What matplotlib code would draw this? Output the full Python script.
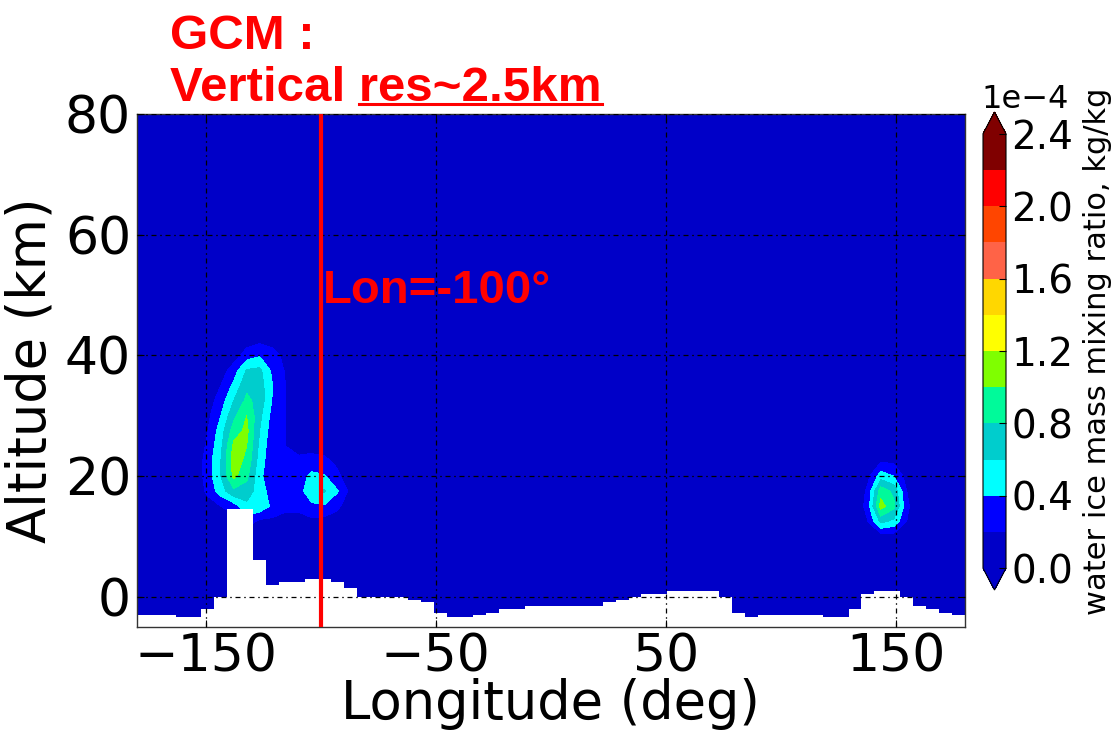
import numpy as np
import matplotlib
matplotlib.use("Agg")
import matplotlib.pyplot as plt
from matplotlib.colors import ListedColormap
from matplotlib.ticker import ScalarFormatter
from matplotlib.lines import Line2D

# ---------------------------------------------------------------------------
# Model grid (64 longitudes, 2.5 km vertical levels)
# ---------------------------------------------------------------------------
lon_edges = np.linspace(-180.0, 180.0, 65)
lon_centers = 0.5 * (lon_edges[:-1] + lon_edges[1:])
altitudes = np.arange(-5.0, 80.01, 2.5)

# Surface altitude (km) for each longitude cell
surface_km = [
    -3.0, -3.0, -3.0, -3.4, -3.4, -2.0, 0.0, 14.5,
    14.5, 6.1, 1.9, 2.5, 2.5, 3.0, 3.0, 2.5,
    1.4, 0.0, 0.0, 0.0, 0.0, -0.5, -0.9, -2.6,
    -3.4, -3.4, -3.0, -2.6, -2.0, -2.0, -1.6, -1.6,
    -1.6, -1.6, -1.6, -1.6, -0.9, -0.5, 0.0, 0.4,
    0.4, 1.0, 1.0, 1.0, 1.0, 0.0, -2.6, -3.4,
    -3.0, -3.0, -3.0, -3.0, -3.0, -3.4, -3.4, -2.0,
    0.4, 1.0, 1.0, 0.0, -1.6, -2.0, -2.6, -3.0,
]

# Water ice mixing ratio (1e-4 kg/kg), western clouds:
# longitude cells 4..16, altitudes 10 km to 42.5 km (rows bottom -> top)
west_first_lon_cell = 4
west_first_alt_km = 10.0
west_cloud = [
    [0.00, 0.00, 0.00, 0.00, 0.10, 0.05, 0.05, 0.00, 0.00, 0.00, 0.00, 0.00, 0.00],
    [0.00, 0.00, 0.05, 0.10, 0.30, 0.15, 0.15, 0.12, 0.12, 0.15, 0.12, 0.08, 0.00],
    [0.00, 0.10, 0.20, 0.30, 0.55, 0.55, 0.35, 0.25, 0.25, 0.35, 0.38, 0.25, 0.05],
    [0.05, 0.25, 0.50, 0.75, 0.70, 0.50, 0.30, 0.25, 0.30, 0.55, 0.62, 0.42, 0.15],
    [0.05, 0.30, 0.60, 1.05, 0.85, 0.45, 0.25, 0.25, 0.30, 0.45, 0.42, 0.25, 0.05],
    [0.05, 0.30, 0.60, 1.10, 0.95, 0.50, 0.25, 0.22, 0.25, 0.28, 0.25, 0.15, 0.00],
    [0.00, 0.25, 0.55, 1.05, 1.00, 0.55, 0.25, 0.20, 0.12, 0.12, 0.10, 0.05, 0.00],
    [0.00, 0.20, 0.50, 0.90, 1.05, 0.60, 0.28, 0.20, 0.05, 0.00, 0.00, 0.00, 0.00],
    [0.00, 0.15, 0.40, 0.75, 1.00, 0.65, 0.32, 0.20, 0.00, 0.00, 0.00, 0.00, 0.00],
    [0.00, 0.10, 0.30, 0.60, 0.85, 0.72, 0.38, 0.20, 0.00, 0.00, 0.00, 0.00, 0.00],
    [0.00, 0.00, 0.20, 0.45, 0.75, 0.70, 0.40, 0.20, 0.00, 0.00, 0.00, 0.00, 0.00],
    [0.00, 0.00, 0.10, 0.30, 0.62, 0.65, 0.35, 0.18, 0.00, 0.00, 0.00, 0.00, 0.00],
    [0.00, 0.00, 0.00, 0.10, 0.30, 0.38, 0.30, 0.12, 0.00, 0.00, 0.00, 0.00, 0.00],
    [0.00, 0.00, 0.00, 0.00, 0.10, 0.15, 0.10, 0.00, 0.00, 0.00, 0.00, 0.00, 0.00],
]

# Eastern cloud: longitude cells 55..60, altitudes 7.5 km to 22.5 km
east_first_lon_cell = 55
east_first_alt_km = 7.5
east_cloud = [
    [0.00, 0.00, 0.00, 0.00, 0.00, 0.00],
    [0.00, 0.05, 0.10, 0.10, 0.00, 0.00],
    [0.00, 0.20, 0.65, 0.55, 0.20, 0.00],
    [0.00, 0.30, 1.08, 0.85, 0.25, 0.00],
    [0.00, 0.25, 0.92, 0.75, 0.20, 0.00],
    [0.00, 0.15, 0.50, 0.40, 0.12, 0.00],
    [0.00, 0.05, 0.18, 0.15, 0.05, 0.00],
]

ice_unit = 1e-4
contour_levels = np.linspace(0.0, 2.4, 13) * ice_unit
colorbar_ticks = np.linspace(0.0, 2.4, 7) * ice_unit
band_colors = ["#0000c8", "#0000ff", "#00ffff", "#00cdcd", "#00fa9a", "#7fff00",
               "#ffff00", "#ffd700", "#ff6347", "#ff4500", "#ff0000", "#800000"]
section_lon = -100.0

# ---------------------------------------------------------------------------
# Assemble the longitude-altitude field
# ---------------------------------------------------------------------------
field = np.zeros((len(altitudes), len(lon_centers)))


def add_block(block, first_cell, first_alt):
    b = np.asarray(block, dtype=float)
    row0 = int(round((first_alt - altitudes[0]) / 2.5))
    field[row0:row0 + b.shape[0], first_cell:first_cell + b.shape[1]] += b


add_block(west_cloud, west_first_lon_cell, west_first_alt_km)
add_block(east_cloud, east_first_lon_cell, east_first_alt_km)
field *= ice_unit

# extend to the domain edges so the field covers -180..180
lon_plot = np.concatenate([[-180.0], lon_centers, [180.0]])
field_plot = np.hstack([field[:, :1], field, field[:, -1:]])

# ---------------------------------------------------------------------------
# Figure
# ---------------------------------------------------------------------------
fig = plt.figure(figsize=(11.18, 7.35), dpi=100)
ax = fig.add_axes([136.7 / 1118, (735 - 627) / 735, (965 - 136.7) / 1118, (627 - 114) / 735])

cmap = ListedColormap(band_colors).with_extremes(under=band_colors[0], over=band_colors[-1])
cf = ax.contourf(lon_plot, altitudes, field_plot, levels=contour_levels,
                 cmap=cmap, extend="both", zorder=1)

# ground below the surface
ax.stairs(surface_km, lon_edges, baseline=-5.0, fill=True,
          facecolor="white", edgecolor="none", zorder=1.5)

ax.set_xlim(-180, 180)
ax.set_ylim(-5, 80)
ax.set_xticks([-150, -50, 50, 150])
ax.set_yticks([0, 20, 40, 60, 80])
ax.set_axisbelow(False)
ax.grid(True, color="black", linestyle=(0, (4, 3, 1.2, 3)), linewidth=0.9)
ax.tick_params(direction="in", length=5, width=0.8, labelsize=37.5,
               top=True, right=True, pad=4)
for sp in ax.spines.values():
    sp.set_linewidth(1.0)
    sp.set_color("#333333")

ax.set_xlabel("Longitude (deg)", fontsize=38, labelpad=-3)
ax.set_ylabel("Altitude (km)", fontsize=38, labelpad=6)

# longitude of the vertical section
ax.axvline(section_lon, color="#ff0000", linewidth=3.0, zorder=3)
ax.text(section_lon + 1.0, 48.7, "Lon=-100°",
        color="#ff0000", fontsize=34, fontweight="bold",
        family="Liberation Sans", ha="left", va="baseline", zorder=4)

# colour bar
cax = fig.add_axes([983 / 1118, (735 - 590) / 735, 23 / 1118, 478 / 735])
cbar = fig.colorbar(cf, cax=cax, ticks=colorbar_ticks, extendfrac=0.05)
fmt = ScalarFormatter(useMathText=False)
fmt.set_powerlimits((0, 0))
cbar.formatter = fmt
cbar.update_ticks()
cbar.ax.tick_params(labelsize=28, direction="in", length=5, pad=4)
cbar.outline.set_linewidth(0.8)
offset_txt = cbar.ax.yaxis.get_offset_text()
offset_txt.set_fontsize(23)
offset_txt.set_horizontalalignment("left")
offset_txt.set_x(-0.05)
cbar.set_label("water ice mass mixing ratio, kg/kg", fontsize=22, labelpad=7)

# heading
head_kw = dict(color="#ff0000", fontsize=35.5, fontweight="bold", family="Liberation Sans",
               ha="left", va="baseline")
fig.text(170 / 1118, (735 - 49) / 735, "GCM :", **head_kw)
line2 = fig.text(170 / 1118, (735 - 101) / 735, "Vertical res~2.5km", **head_kw)
probe = fig.text(0, 0, "res~2.5km", **head_kw)

fig.canvas.draw()
renderer = fig.canvas.get_renderer()
bb_full = line2.get_window_extent(renderer)
bb_part = probe.get_window_extent(renderer)
probe.remove()
x1 = bb_full.x1 / fig.bbox.width
x0 = (bb_full.x1 - bb_part.width) / fig.bbox.width
y_ul = (735 - 104) / 735
fig.add_artist(Line2D([x0, x1], [y_ul, y_ul], transform=fig.transFigure,
                      color="#ff0000", linewidth=2.2))

fig.savefig("out.png", dpi=100)
